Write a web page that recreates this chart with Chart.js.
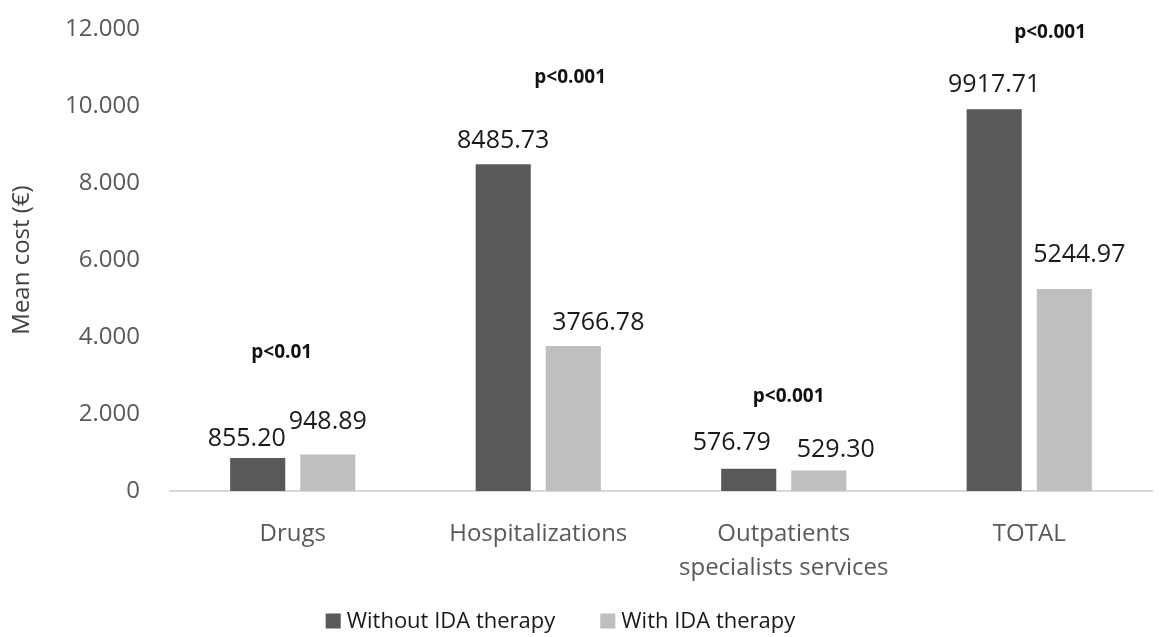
<!DOCTYPE html>
<html>
<head>
<meta charset="utf-8">
<script src="https://cdn.jsdelivr.net/npm/chart.js@4.4.1/dist/chart.umd.min.js"></script>
<style>
    html, body { margin: 0; padding: 0; background: #ffffff; }
    #wrap { width: 1171px; height: 637px; position: relative; }
</style>
</head>
<body>
<div id="wrap"><canvas id="costChart"></canvas></div>
<script>
// Chart data
const categories = ['Drugs', 'Hospitalizations', ['Outpatients', 'specialists services'], 'TOTAL'];
const withoutIda = [855.20, 8485.73, 576.79, 9917.71];
const withIda = [948.89, 3766.78, 529.30, 5244.97];
const yTicks = [0, 2000, 4000, 6000, 8000, 10000, 12000];
const pLabels = ['p<0.01', 'p<0.001', 'p<0.001', 'p<0.001'];

// where the p-value notes sit: value level and a shift within the category
const pNotes = {
    level: [3600, 10750, 2450, 11900],
    shift: [-0.045, 0.13, 0.02, 0.085]
};

// small moves of the value labels so they don't collide (px)
const labelNudge = {
    dx: [[-11, 0, -17, 0], [0, 25, 17, 15]],
    dy: [[-4, 0, 3, 1], [10, 0, -2, 11]]
};

const DARK = '#595959';
const LIGHT = '#bfbfbf';
const FONT = "'Open Sans', 'Noto Sans', sans-serif";

// number on top of each bar
const valueLabels = {
    id: 'valueLabels',
    afterDatasetsDraw(chart) {
        const ctx = chart.ctx;
        ctx.save();
        ctx.font = '25px ' + FONT;
        ctx.fillStyle = '#1a1a1a';
        ctx.textAlign = 'center';
        ctx.textBaseline = 'middle';
        chart.data.datasets.forEach((ds, di) => {
            const meta = chart.getDatasetMeta(di);
            meta.data.forEach((bar, i) => {
                const x = bar.x + labelNudge.dx[di][i];
                const y = bar.y - 23 - labelNudge.dy[di][i];
                ctx.fillText(ds.data[i].toFixed(2), x, y);
            });
        });
        ctx.restore();
    }
};

// bold p-value notes
const pValueNotes = {
    id: 'pValueNotes',
    afterDraw(chart) {
        const ctx = chart.ctx;
        const x = chart.scales.x;
        const y = chart.scales.y;
        const step = x.getPixelForValue(1) - x.getPixelForValue(0);
        ctx.save();
        ctx.font = 'bold 19px ' + FONT;
        ctx.fillStyle = '#111111';
        ctx.textAlign = 'center';
        ctx.textBaseline = 'middle';
        pLabels.forEach((txt, i) => {
            const px = x.getPixelForValue(i) + pNotes.shift[i] * step;
            const py = y.getPixelForValue(pNotes.level[i]);
            ctx.fillText(txt, px, py);
        });
        ctx.restore();
    }
};

// legend drawn by hand so box/text spacing matches
const bottomLegend = {
    id: 'bottomLegend',
    afterDraw(chart) {
        const ctx = chart.ctx;
        const box = 15, gap = 6, between = 45;
        ctx.save();
        ctx.font = '22px ' + FONT;
        const items = chart.data.datasets.map(ds => ({
            text: ds.label,
            color: ds.backgroundColor,
            w: ctx.measureText(ds.label).width
        }));
        const total = items.reduce((s, it) => s + box + gap + it.w, 0) + between * (items.length - 1);
        let x = (chart.width - total) / 2 - 25;
        const yc = 621;
        ctx.textBaseline = 'middle';
        ctx.textAlign = 'left';
        items.forEach(it => {
            ctx.fillStyle = it.color;
            ctx.fillRect(x, yc - box / 2, box, box);
            ctx.fillStyle = '#1a1a1a';
            ctx.fillText(it.text, x + box + gap, yc + 1);
            x += box + gap + it.w + between;
        });
        ctx.restore();
    }
};

const ctx = document.getElementById('costChart').getContext('2d');
new Chart(ctx, {
    type: 'bar',
    data: {
        labels: categories,
        datasets: [
            {
                label: 'Without IDA therapy',
                data: withoutIda,
                backgroundColor: DARK,
                categoryPercentage: 0.571,
                barPercentage: 0.786
            },
            {
                label: 'With IDA therapy',
                data: withIda,
                backgroundColor: LIGHT,
                categoryPercentage: 0.571,
                barPercentage: 0.786
            }
        ]
    },
    options: {
        responsive: true,
        maintainAspectRatio: false,
        animation: false,
        layout: { padding: { top: 29, right: 19, bottom: 34, left: 0 } },
        plugins: {
            legend: { display: false },
            tooltip: { enabled: false }
        },
        scales: {
            x: {
                grid: { display: false, drawTicks: false },
                border: { display: true, color: '#d9d9d9', width: 2 },
                ticks: {
                    color: DARK,
                    font: { family: FONT, size: 24, lineHeight: 1.38 },
                    padding: 27,
                    maxRotation: 0,
                    autoSkip: false
                },
                afterFit(scale) { scale.height = 112; }
            },
            y: {
                min: 0,
                max: 12000,
                grid: { display: false, drawTicks: false },
                border: { display: false },
                afterBuildTicks(scale) {
                    scale.ticks = yTicks.map(v => ({ value: v }));
                },
                ticks: {
                    color: DARK,
                    font: { family: FONT, size: 24 },
                    padding: 30,
                    callback: v => v === 0 ? '0' : (v / 1000).toFixed(3)
                },
                title: {
                    display: true,
                    text: 'Mean cost (€)',
                    color: '#404040',
                    font: { family: FONT, size: 24 },
                    padding: { top: 8, bottom: 4 }
                },
                afterFit(scale) {
                    scale.width = 170;
                    scale.paddingTop = 0;
                    scale.paddingBottom = 0;
                }
            }
        }
    },
    plugins: [valueLabels, pValueNotes, bottomLegend]
});
</script>
</body>
</html>
